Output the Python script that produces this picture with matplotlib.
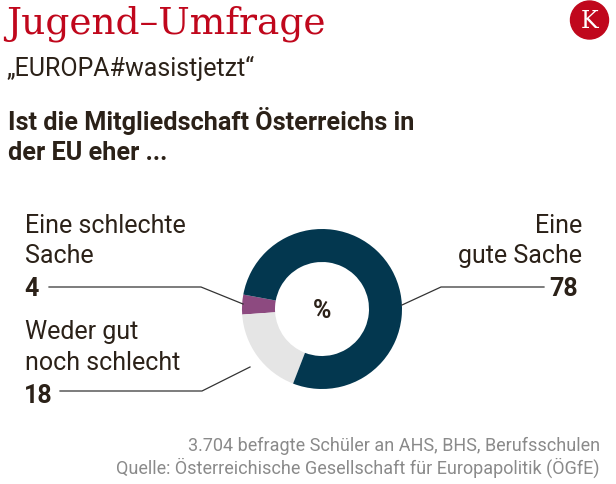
import matplotlib
matplotlib.use("Agg")
import matplotlib.pyplot as plt
from matplotlib.patches import Circle

# data
labels = ["Eine schlechte\nSache", "Weder gut\nnoch schlecht", "Eine\ngute Sache"]
values = [4, 18, 78]
colors = ["#8d4a80", "#e5e5e5", "#03374f"]

title = "Jugend–Umfrage"
subtitle = "„EUROPA#wasistjetzt“"
question = "Ist die Mitgliedschaft Österreichs in\nder EU eher ..."
footer = ["3.704 befragte Schüler an AHS, BHS, Berufsschulen",
          "Quelle: Österreichische Gesellschaft für Europapolitik (ÖGfE)"]

W, H = 616, 485
TXT = "#2b2118"


def Y(y):
    # image coords (top=0) -> axes coords
    return H - y


fig = plt.figure(figsize=(W / 100, H / 100), dpi=100)
ax = fig.add_axes([0, 0, 1, 1])

# donut
cx, cy, r = 322, Y(310), 80
ax.pie(values, colors=colors, startangle=169.6, counterclock=True,
       center=(cx, cy), radius=r, frame=True,
       wedgeprops=dict(width=33, linewidth=0))
ax.set_xlim(0, W)
ax.set_ylim(0, H)
ax.set_aspect("equal")
ax.axis("off")
ax.text(cx, cy - 1, "%", fontsize=18, family="Roboto", weight="bold", color=TXT,
        ha="center", va="center")

# header
ax.text(6, Y(33), title, fontsize=27, family="DejaVu Serif", color="#c0071c", va="baseline")
ax.text(7, Y(76), subtitle, fontsize=18, family="Roboto", color=TXT, va="baseline")
q1, q2 = question.split("\n")
ax.text(8, Y(130), q1, fontsize=18.2, family="Roboto", weight="bold", color=TXT, va="baseline")
ax.text(8, Y(160), q2, fontsize=18.2, family="Roboto", weight="bold", color=TXT, va="baseline")

# logo
ax.add_patch(Circle((589.5, Y(21)), 19, color="#c0071c"))
ax.text(589.5, Y(21), "K", fontsize=17, family="DejaVu Serif", color="white",
        ha="center", va="center")

# labels
lab_fs = 18
l0 = labels[0].split("\n")
l1 = labels[1].split("\n")
l2 = labels[2].split("\n")
ax.text(25, Y(233), l0[0], fontsize=lab_fs, family="Roboto", color=TXT, va="baseline")
ax.text(25, Y(263), l0[1], fontsize=lab_fs, family="Roboto", color=TXT, va="baseline")
ax.text(24, Y(296), str(values[0]), fontsize=lab_fs, family="Roboto", weight="bold",
        color=TXT, va="baseline")
ax.text(25, Y(339), l1[0], fontsize=lab_fs, family="Roboto", color=TXT, va="baseline")
ax.text(25, Y(370), l1[1], fontsize=lab_fs, family="Roboto", color=TXT, va="baseline")
ax.text(24, Y(403), str(values[1]), fontsize=lab_fs, family="Roboto", weight="bold",
        color=TXT, va="baseline")
ax.text(582, Y(233), l2[0], fontsize=lab_fs, family="Roboto", color=TXT, va="baseline", ha="right")
ax.text(582, Y(263), l2[1], fontsize=lab_fs, family="Roboto", color=TXT, va="baseline", ha="right")
ax.text(578, Y(296), str(values[2]), fontsize=lab_fs, family="Roboto", weight="bold",
        color=TXT, va="baseline", ha="right")

# leader lines
lc = "#333333"
ax.plot([49, 201, 243], [Y(288), Y(288), Y(305)], color=lc, lw=0.9)
ax.plot([60, 202, 250], [Y(392), Y(392), Y(368)], color=lc, lw=0.9)
ax.plot([544, 441, 402], [Y(288), Y(288), Y(306)], color=lc, lw=0.9)

# footer
ax.text(600, Y(451), footer[0], fontsize=13, family="Roboto", color="#8a8a8a",
        ha="right", va="baseline")
ax.text(600, Y(474), footer[1], fontsize=13, family="Roboto", color="#8a8a8a",
        ha="right", va="baseline")

fig.savefig("out.png", dpi=100)
